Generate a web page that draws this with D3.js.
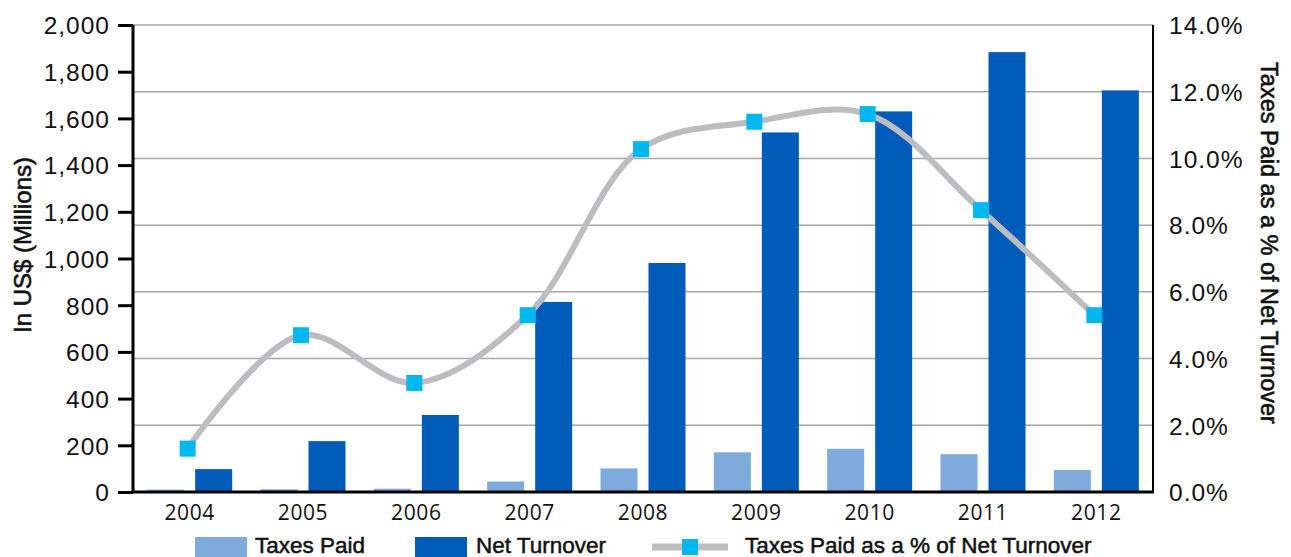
<!DOCTYPE html>
<html><head><meta charset="utf-8">
<script src="https://cdn.jsdelivr.net/npm/d3@7"></script>
<style>body{margin:0;background:#fff}svg{display:block}</style>
</head><body>
<svg id="chart" width="1291" height="557"></svg>
<script>
const years = ["2004","2005","2006","2007","2008","2009","2010","2011","2012"];
const taxesPaid = [10, 12, 14, 45, 101, 170, 185, 162, 94];
const netTurnover = [98, 218, 330, 814, 981, 1540, 1630, 1884, 1720];
const taxPct = [1.3, 4.7, 3.27, 5.3, 10.28, 11.1, 11.33, 8.45, 5.3];
const leftTicks = [0,200,400,600,800,1000,1200,1400,1600,1800,2000];
const rightTicks = [0,2,4,6,8,10,12,14];
const seriesNames = ["Taxes Paid","Net Turnover","Taxes Paid as a % of Net Turnover"];

const colTax = "#7eabdc", colNet = "#005cb8", colLine = "#bcbdc0", colMark = "#00b8ee";
const svg = d3.select("#chart");
const L = 133, R = 1153, T = 25, B = 492;
const SANS = "Liberation Sans, Arial, Helvetica, sans-serif";

const x = d3.scaleBand().domain(years).range([L, R]);
const x1 = d3.scaleBand().domain(["tax","net"]).range([0, x.bandwidth()]).paddingInner(0.229).paddingOuter(0.295);
const yL = d3.scaleLinear().domain([0,2000]).range([B,T]);
const yR = d3.scaleLinear().domain([0,14]).range([B,T]);

// gridlines
svg.append("g").selectAll("line").data(rightTicks.filter(d=>d>0)).join("line")
  .attr("x1", L).attr("x2", R).attr("y1", d=>yR(d)).attr("y2", d=>yR(d))
  .attr("stroke", "#a6a6a6").attr("stroke-width", 1.5);

// bars
const gb = svg.append("g");
gb.selectAll("rect.tax").data(years).join("rect").attr("class","tax")
  .attr("x", (d)=>x(d)+x1("tax")).attr("width", x1.bandwidth())
  .attr("y", (d,i)=>yL(taxesPaid[i])).attr("height", (d,i)=>B-yL(taxesPaid[i]))
  .attr("fill", colTax);
gb.selectAll("rect.net").data(years).join("rect").attr("class","net")
  .attr("x", (d)=>x(d)+x1("net")).attr("width", x1.bandwidth())
  .attr("y", (d,i)=>yL(netTurnover[i])).attr("height", (d,i)=>B-yL(netTurnover[i]))
  .attr("fill", colNet);

// line
const cx = d => x(d) + x.bandwidth()/2 - 2;
const line = d3.line().x((d,i)=>cx(years[i])).y(d=>yR(d)).curve(d3.curveCatmullRom.alpha(0.5));
svg.append("path").attr("d", line(taxPct)).attr("fill","none")
  .attr("stroke", colLine).attr("stroke-width", 6).attr("stroke-linejoin","round");
svg.append("g").selectAll("rect").data(taxPct).join("rect")
  .attr("x", (d,i)=>cx(years[i])-8).attr("y", d=>yR(d)-8)
  .attr("width",16).attr("height",16).attr("fill", colMark);

// left axis
const axL = d3.axisLeft(yL).tickValues(leftTicks).tickSize(15).tickPadding(8).tickFormat(d3.format(","));
const gL = svg.append("g").attr("transform", `translate(${L},0)`).call(axL);
gL.select(".domain").attr("stroke","#000").attr("stroke-width",3).attr("d", `M0,${T}V${B}`);
gL.selectAll(".tick line").attr("stroke","#000").attr("stroke-width",3);
gL.selectAll(".tick text").attr("font-family",SANS).attr("font-size",24.5).attr("letter-spacing",1)
  .attr("fill","#111").attr("dy","0.36em");

// right axis
const axR = d3.axisRight(yR).tickValues(rightTicks).tickSize(0).tickPadding(16).tickFormat(d=>d.toFixed(1)+"%");
const gR = svg.append("g").attr("transform", `translate(${R},0)`).call(axR);
gR.select(".domain").attr("stroke","#000").attr("stroke-width",2).attr("d", `M0,${T}V${B}`);
gR.selectAll(".tick text").attr("font-family",SANS).attr("font-size",24.5).attr("letter-spacing",1)
  .attr("fill","#111").attr("dy","0.36em");

// bottom axis
const axB = d3.axisBottom(x).tickSize(0).tickPadding(13);
const gB = svg.append("g").attr("transform", `translate(0,${B})`).call(axB);
gB.select(".domain").attr("stroke","#000").attr("stroke-width",3).attr("d", `M${L-1.5},0H${R+1}`);
gB.selectAll(".tick text").attr("font-family","Open Sans, sans-serif").attr("font-size",21)
  .attr("letter-spacing",0.6).attr("fill","#111");

// axis titles
const titleStyle = s => s.attr("text-anchor","middle").attr("font-family",SANS).attr("font-size",24)
  .attr("fill","#111").attr("stroke","#111").attr("stroke-width",0.6);
svg.append("text").attr("transform","translate(31,245) rotate(-90)").call(titleStyle)
  .text("In US$ (Millions)");
svg.append("text").attr("transform","translate(1261,243) rotate(90)").call(titleStyle)
  .attr("font-size",23.5).text(seriesNames[2]);

// legend
const lg = svg.append("g").attr("font-family",SANS).attr("font-size",22.5).attr("fill","#111")
  .attr("stroke","#111").attr("stroke-width",0.5);
lg.append("rect").attr("x",195).attr("y",537).attr("width",52).attr("height",22).attr("fill",colTax).attr("stroke","none");
lg.append("text").attr("x",255).attr("y",553).text(seriesNames[0]);
lg.append("rect").attr("x",415).attr("y",537).attr("width",52).attr("height",22).attr("fill",colNet).attr("stroke","none");
lg.append("text").attr("x",476).attr("y",553).text(seriesNames[1]);
lg.append("line").attr("x1",652).attr("x2",728).attr("y1",547).attr("y2",547).attr("stroke",colLine).attr("stroke-width",7);
lg.append("rect").attr("x",682).attr("y",539).attr("width",16).attr("height",16).attr("fill",colMark).attr("stroke","none");
lg.append("text").attr("x",745).attr("y",553).text(seriesNames[2]);
</script>
</body></html>
